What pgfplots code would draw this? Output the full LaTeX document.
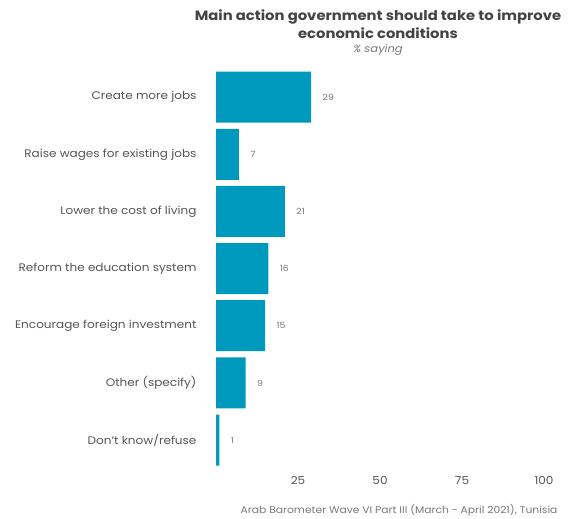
\documentclass[border=0pt]{standalone}
\usepackage{pgfplots}
\pgfplotsset{compat=1.18}
\usepackage{fontspec}
\setmainfont{Poppins}[FakeStretch=1.1]
\definecolor{abblue}{RGB}{0,153,190}
\definecolor{labgray}{RGB}{85,85,85}
\definecolor{valgray}{RGB}{120,120,120}
\definecolor{titgray}{RGB}{68,68,68}
\begin{document}
\begin{tikzpicture}[x=1bp,y=1bp]
\path[use as bounding box] (0,0) rectangle (569,519);
\begin{axis}[
  at={(216bp,50.4bp)}, anchor=south west,
  scale only axis, width=328bp, height=400bp,
  xmin=0, xmax=100, ymin=-0.5, ymax=6.5, y dir=reverse,
  axis line style={draw=none},
  xtick={25,50,75,100},
  ytick={0,1,2,3,4,5,6},
  yticklabels={Create more jobs,Raise wages for existing jobs,Lower the cost of living,Reform the education system,Encourage foreign investment,Other (specify),Don't know/refuse},
  major tick length=0pt,
  tick style={draw=none},
  /pgf/number format/assume math mode=true,
  xticklabel style={font=\fontsize{11}{13}\selectfont, text=labgray, yshift=-4bp},
  yticklabel style={font=\fontsize{11}{13}\selectfont, text=labgray, xshift=-16bp},
  xbar, bar width=51bp,
  nodes near coords,
  every node near coord/.append style={font=\fontsize{8.5}{10}\selectfont, text=valgray, anchor=west, xshift=8bp},
]
\addplot[fill=abblue, draw=none] coordinates {(29,0) (7,1) (21,2) (16,3) (15,4) (9,5) (1,6)};
\end{axis}
\node[font=\bfseries\fontsize{13.5}{15}\selectfont, text=titgray] at (378,502) {Main action government should take to improve};
\node[font=\bfseries\fontsize{13.5}{15}\selectfont, text=titgray] at (378,486) {economic conditions};
\node[font=\itshape\fontsize{10.5}{12}\selectfont, text=valgray] at (378,469) {\% saying};
\node[font=\fontsize{9.8}{12}\selectfont, text=valgray, anchor=east] at (561,9) {Arab Barometer Wave VI Part III (March - April 2021), Tunisia};
\end{tikzpicture}
\end{document}
